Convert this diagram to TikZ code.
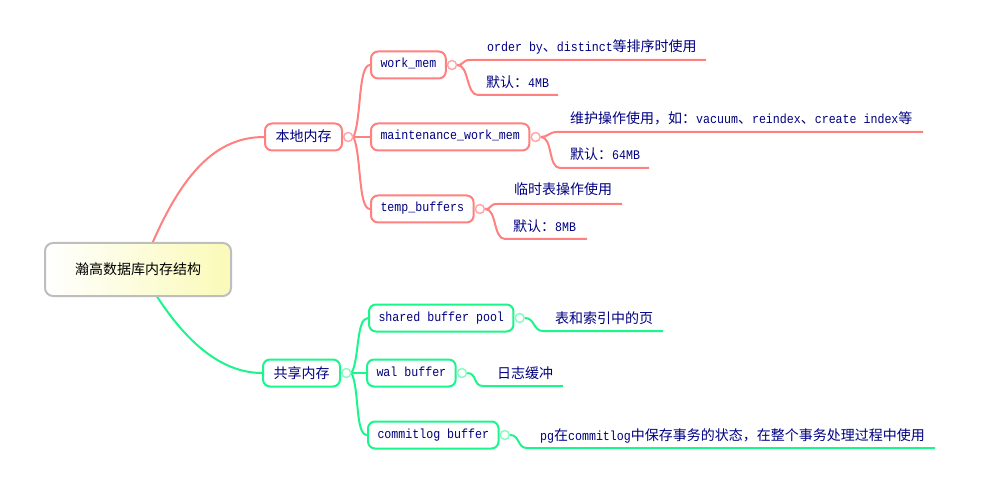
\documentclass[tikz,border=0pt]{standalone}
\usepackage{fontspec}
\setmainfont{Liberation Mono}
\newfontfamily\monof[FakeStretch=0.88]{Liberation Mono}
\newfontfamily\cjkfont{Noto Sans CJK SC}
\newcommand{\zh}[1]{{\cjkfont\fontsize{14}{16}\selectfont #1}}
\newcommand{\monosize}{\monof\fontsize{13.2}{16}\selectfont}
\usetikzlibrary{backgrounds,calc}
\definecolor{redb}{HTML}{FF8080}
\definecolor{redc}{HTML}{FFA8A8}
\definecolor{grnb}{HTML}{1AF58C}
\definecolor{grnc}{HTML}{8CFAC4}
\definecolor{txt}{HTML}{000080}
\definecolor{rootb}{HTML}{BEBEBE}
\definecolor{rooty}{HTML}{FAFAB8}
\tikzset{
  rootbox/.style={draw=rootb, line width=2pt, rounded corners=8pt, left color=white, right color=rooty,
    minimum width=186pt, minimum height=53pt, inner sep=0pt, text=black,
    font=\cjkfont\fontsize{14}{16}\selectfont},
  box/.style={line width=2pt, rounded corners=7pt, fill=white, minimum height=27pt,
    inner xsep=9.5pt, inner ysep=0pt, anchor=west, text=txt, font=\monosize,
    text height=9pt, text depth=3pt},
  cjkbox/.style={box, inner xsep=10.5pt, font=\cjkfont\fontsize{14}{16}\selectfont,
    text height=12pt, text depth=2pt},
  redbox/.style={box, draw=redb},
  grnbox/.style={box, draw=grnb},
  dot/.style={circle, line width=1.5pt, fill=white, minimum size=9pt, inner sep=0pt, anchor=west},
  reddot/.style={dot, draw=redc},
  grndot/.style={dot, draw=grnc},
  leaf/.style={anchor=base west, inner sep=0pt, text=txt, font=\monosize},
  redline/.style={draw=redb, line width=2pt},
  grnline/.style={draw=grnb, line width=2pt},
}
\begin{document}
\begin{tikzpicture}[x=1pt, y=-1pt]
\useasboundingbox (0,0) rectangle (988,489);

% root
\node[rootbox] (root) at (138,269.5) {瀚高数据库内存结构};
\coordinate (rtop) at (152,244);
\coordinate (rbot) at (156,295);

% local memory branch
\node[redbox, cjkbox, draw=redb] (local) at (264,137) {本地内存};
\node[reddot] (localc) at (local.east) {};
\node[redbox] (wm) at (370,65) {work\_mem};
\node[reddot] (wmc) at (wm.east) {};
\node[redbox] (mw) at (370,137) {maintenance\_work\_mem};
\node[reddot] (mwc) at (mw.east) {};
\node[redbox] (tb) at (370,209) {temp\_buffers};
\node[reddot] (tbc) at (tb.east) {};

% shared memory branch
\node[grnbox, cjkbox, draw=grnb] (shared) at (262,373) {共享内存};
\node[grndot] (sharedc) at (shared.east) {};
\node[grnbox] (sbp) at (368,318) {shared buffer pool};
\node[grndot] (sbpc) at (sbp.east) {};
\node[grnbox] (wal) at (366,373) {wal buffer};
\node[grndot] (walc) at (wal.east) {};
\node[grnbox] (clog) at (367,435) {commitlog buffer};
\node[grndot] (clogc) at (clog.east) {};

% leaves
\node[leaf] (t1a) at (487,52) {order by\zh{、}distinct\zh{等排序时使用}};
\coordinate (s1a) at (470,60); \coordinate (e1a) at (706,60);
\node[leaf] (t1b) at (486,88) {\zh{默认：}4MB};
\coordinate (s1b) at (478,95); \coordinate (e1b) at (558,95);
\node[leaf] (t2a) at (570,124) {\zh{维护操作使用，如：}vacuum\zh{、}reindex\zh{、}create index\zh{等}};
\coordinate (s2a) at (557,132); \coordinate (e2a) at (923,132);
\node[leaf] (t2b) at (570,160) {\zh{默认：}64MB};
\coordinate (s2b) at (560,168); \coordinate (e2b) at (649,168);
\node[leaf] (t3a) at (514,195) {\zh{临时表操作使用}};
\coordinate (s3a) at (497,204); \coordinate (e3a) at (622,204);
\node[leaf] (t3b) at (513,232) {\zh{默认：}8MB};
\coordinate (s3b) at (505,239); \coordinate (e3b) at (587,239);

\node[leaf] (tg1) at (555,323) {\zh{表和索引中的页}};
\coordinate (sg1) at (543,331); \coordinate (eg1) at (663,331);
\node[leaf] (tg2) at (497,378) {\zh{日志缓冲}};
\coordinate (sg2) at (483,386); \coordinate (eg2) at (563,386);
\node[leaf] (tg3) at (540,440) {pg\zh{在}commitlog\zh{中保存事务的状态，在整个事务处理过程中使用}};
\coordinate (sg3) at (527,448); \coordinate (eg3) at (935,448);

\begin{pgfonlayer}{background}
  \draw[redline] (rtop) .. controls (182,175) and (215,137) .. (local.west);
  \draw[grnline] (rbot) .. controls (185,340) and (220,373) .. (shared.west);

  \draw[redline] (localc.east) .. controls +(8,-18) and +(-12,0) .. (wm.west);
  \draw[redline] (localc.east) -- (mw.west);
  \draw[redline] (localc.east) .. controls +(8,18) and +(-12,0) .. (tb.west);

  \draw[grnline] (sharedc.east) .. controls +(8,-14) and +(-12,0) .. (sbp.west);
  \draw[grnline] (sharedc.east) -- (wal.west);
  \draw[grnline] (sharedc.east) .. controls +(8,16) and +(-12,0) .. (clog.west);

  \draw[redline] (wmc.east) .. controls +(7,0) and +(-8,0) .. (s1a) -- (e1a);
  \draw[redline] (wmc.east) .. controls +(12,0) and +(-12,0) .. (s1b) -- (e1b);
  \draw[redline] (mwc.east) .. controls +(7,0) and +(-8,0) .. (s2a) -- (e2a);
  \draw[redline] (mwc.east) .. controls +(12,0) and +(-12,0) .. (s2b) -- (e2b);
  \draw[redline] (tbc.east) .. controls +(7,0) and +(-8,0) .. (s3a) -- (e3a);
  \draw[redline] (tbc.east) .. controls +(12,0) and +(-12,0) .. (s3b) -- (e3b);

  \draw[grnline] (sbpc.east) .. controls +(10,0) and +(-10,0) .. (sg1) -- (eg1);
  \draw[grnline] (walc.east) .. controls +(10,0) and +(-10,0) .. (sg2) -- (eg2);
  \draw[grnline] (clogc.east) .. controls +(10,0) and +(-10,0) .. (sg3) -- (eg3);
\end{pgfonlayer}
\end{tikzpicture}
\end{document}
